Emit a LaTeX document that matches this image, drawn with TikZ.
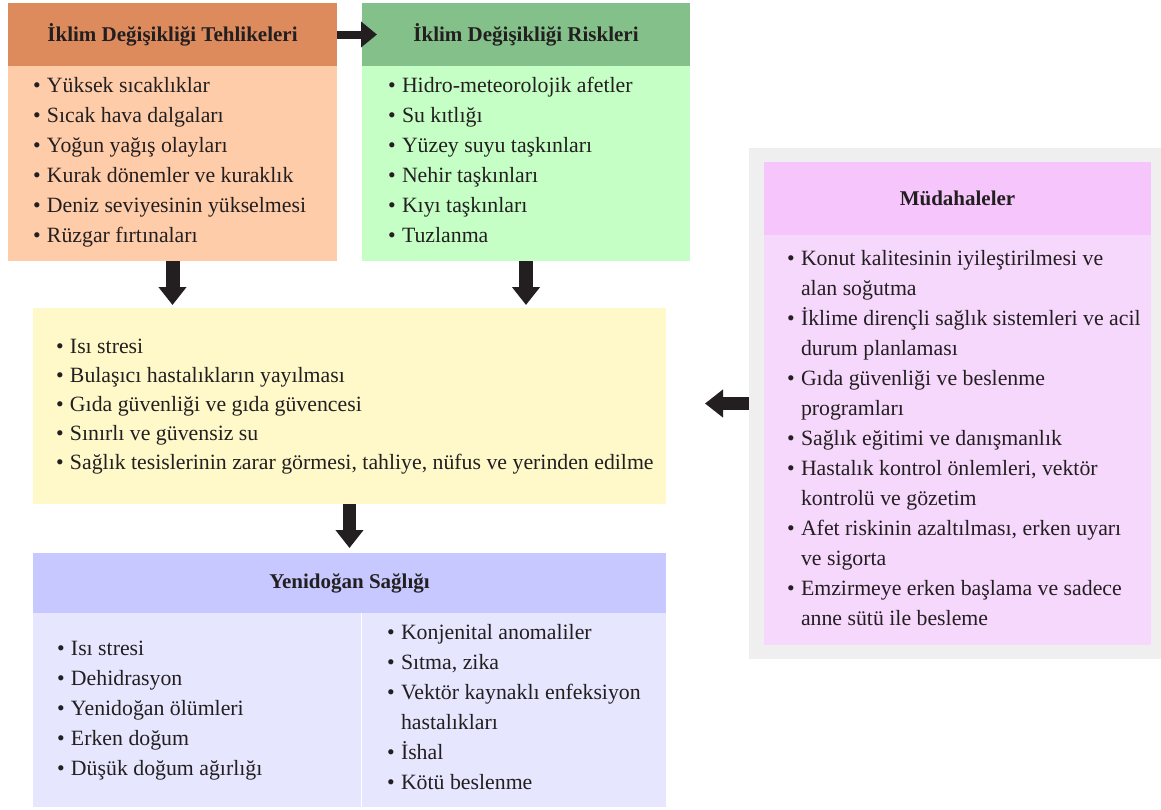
\documentclass[tikz,border=0pt]{standalone}
\usepackage{fontspec}
\setmainfont{Liberation Serif}
\usetikzlibrary{arrows.meta,calc}
\definecolor{orhead}{HTML}{DD8B5D}
\definecolor{orbody}{HTML}{FFCCA9}
\definecolor{grhead}{HTML}{84C08A}
\definecolor{grbody}{HTML}{C5FFC5}
\definecolor{yel}{HTML}{FFF9CA}
\definecolor{blhead}{HTML}{C7C8FF}
\definecolor{blbody}{HTML}{E6E6FE}
\definecolor{grayc}{HTML}{EFEFEF}
\definecolor{pkhead}{HTML}{F5C5FC}
\definecolor{pkbody}{HTML}{F7D8FD}
\definecolor{ink}{HTML}{231F20}
\newcommand\bl{\makebox[14pt][l]{\textbullet}}
\newcommand\ind{\hspace*{14pt}}
\newcommand\blist[2]{\begin{minipage}[t]{700pt}\fontsize{21.8}{#1}\selectfont\raggedright\setlength\parindent{0pt}\setlength\parskip{0pt}#2\end{minipage}}
\tikzset{
  box/.style={anchor=north west, inner sep=0pt, outer sep=0pt, draw=none},
  head/.style={font=\fontsize{21}{24}\selectfont\bfseries, text=ink},
  list/.style={anchor=base west, inner sep=0pt, outer sep=0pt, text=ink},
  bigarrow/.style={draw=ink, line width=14pt, -{Triangle[width=27pt,length=18pt]}}
}
\begin{document}
\begin{tikzpicture}[x=1pt,y=-1pt]
\useasboundingbox (0,0) rectangle (1161,809);
% boxes
\node[box, fill=grayc, minimum width=412pt, minimum height=511pt] (gray) at (749,148) {};
\node[box, fill=pkhead, minimum width=387pt, minimum height=73pt, head] (ph) at (764,162) {Müdahaleler};
\node[box, fill=pkbody, minimum width=387pt, minimum height=410pt] (pb) at (764,235) {};
\node[box, fill=orhead, minimum width=329pt, minimum height=63pt, head] (oh) at (8,3) {İklim Değişikliği Tehlikeleri};
\node[box, fill=orbody, minimum width=329pt, minimum height=195pt] (ob) at (8,66) {};
\node[box, fill=grhead, minimum width=328pt, minimum height=63pt, head] (gh) at (362,3) {İklim Değişikliği Riskleri};
\node[box, fill=grbody, minimum width=328pt, minimum height=195pt] (gb) at (362,66) {};
\node[box, fill=yel, minimum width=633pt, minimum height=196pt] (ye) at (33,308) {};
\node[box, fill=blhead, minimum width=633pt, minimum height=60pt, head] (bh) at (33,553) {Yenidoğan Sağlığı};
\node[box, fill=blbody, minimum width=328pt, minimum height=194pt] (bl) at (33,613) {};
\node[box, fill=blbody, minimum width=304pt, minimum height=194pt] (br) at (362,613) {};
% lists
\node[list] (oltxt) at (33,92) {\blist{30pt}{\bl Yüksek sıcaklıklar\par
\bl Sıcak hava dalgaları\par
\bl Yoğun yağış olayları\par
\bl Kurak dönemler ve kuraklık\par
\bl Deniz seviyesinin yükselmesi\par
\bl Rüzgar fırtınaları}};
\node[list] (gltxt) at (388,92) {\blist{30pt}{\bl Hidro-meteorolojik afetler\par
\bl Su kıtlığı\par
\bl Yüzey suyu taşkınları\par
\bl Nehir taşkınları\par
\bl Kıyı taşkınları\par
\bl Tuzlanma}};
\node[list] (yltxt) at (56,353) {\blist{29pt}{\bl Isı stresi\par
\bl Bulaşıcı hastalıkların yayılması\par
\bl Gıda güvenliği ve gıda güvencesi\par
\bl Sınırlı ve güvensiz su\par
\bl Sağlık tesislerinin zarar görmesi, tahliye, nüfus ve yerinden edilme}};
\node[list] (pltxt) at (787,265) {\blist{30pt}{\bl Konut kalitesinin iyileştirilmesi ve\par
\ind alan soğutma\par
\bl İklime dirençli sağlık sistemleri ve acil\par
\ind durum planlaması\par
\bl Gıda güvenliği ve beslenme\par
\ind programları\par
\bl Sağlık eğitimi ve danışmanlık\par
\bl Hastalık kontrol önlemleri, vektör\par
\ind kontrolü ve gözetim\par
\bl Afet riskinin azaltılması, erken uyarı\par
\ind ve sigorta\par
\bl Emzirmeye erken başlama ve sadece\par
\ind anne sütü ile besleme}};
\node[list] (bltxt) at (57,655) {\blist{30pt}{\bl Isı stresi\par
\bl Dehidrasyon\par
\bl Yenidoğan ölümleri\par
\bl Erken doğum\par
\bl Düşük doğum ağırlığı}};
\node[list] (brtxt) at (387,639) {\blist{30pt}{\bl Konjenital anomaliler\par
\bl Sıtma, zika\par
\bl Vektör kaynaklı enfeksiyon\par
\ind hastalıkları\par
\bl İshal\par
\bl Kötü beslenme}};
% arrows
\draw[bigarrow, line width=8pt, -{Triangle[width=25pt,length=16pt]}, shorten >=-15pt] (oh.east) -- (gh.west);
\draw[bigarrow, shorten >=3pt] (ob.south) -- (ob.south |- ye.north);
\draw[bigarrow, shorten >=3pt] (gb.south) -- (gb.south |- ye.north);
\draw[bigarrow, line width=13pt, shorten >=5pt] (ye.south) -- (bh.north);
\draw[bigarrow, line width=13pt, shorten >=39pt] (gray.west) -- (gray.west -| ye.east);
\end{tikzpicture}
\end{document}
